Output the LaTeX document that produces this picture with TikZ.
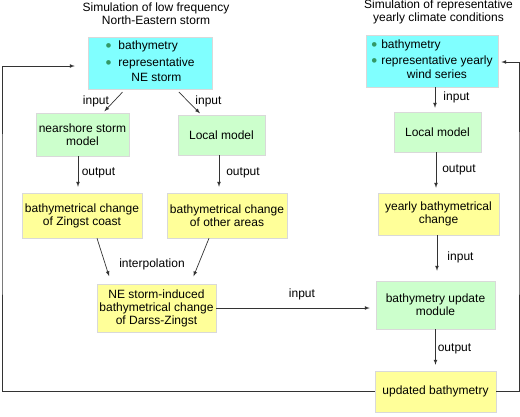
\documentclass[tikz,border=0pt]{standalone}
\usepackage{fontspec}
\setmainfont{Liberation Sans}
\usetikzlibrary{calc,arrows}
\definecolor{boxcyan}{HTML}{80FFFF}
\definecolor{boxgreen}{HTML}{CCFFCC}
\definecolor{boxyellow}{HTML}{FFFF99}
\definecolor{dotgreen}{HTML}{339966}
\newcommand{\greenbullet}{\textcolor{dotgreen}{\smash{\raisebox{-2pt}{\fontsize{17}{13}\selectfont\textbullet}}}}
\begin{document}
\begin{tikzpicture}[x=1pt,y=-1pt,
font=\fontsize{12}{13}\selectfont,
box/.style={draw=black!15, line width=0.5pt, inner sep=0pt, align=center},
cyanbox/.style={box, fill=boxcyan},
greenbox/.style={box, fill=boxgreen},
yellowbox/.style={box, fill=boxyellow},
link/.style={draw=black!80, line width=0.7pt, -latex},
lbl/.style={inner sep=0pt}]
\useasboundingbox (0,0) rectangle (520,416);
\node[align=center, inner sep=0pt] (titleA) at (156,13.5) {Simulation of low frequency\\North-Eastern storm};
\node[align=center, inner sep=0pt] (titleB) at (438.5,12) {Simulation of representative\\yearly climate conditions};
\node[cyanbox, minimum width=124pt, minimum height=52pt] (stormin) at (150,63)
  {\begin{tabular}{@{}l@{\hspace{7pt}}l@{}}\greenbullet & bathymetry\\[4pt]
   \greenbullet & representative\\[1.5pt] & \multicolumn{1}{@{}c@{}}{NE storm}\end{tabular}};
\node[cyanbox, minimum width=132pt, minimum height=52pt] (yearin) at (432,61)
  {\begin{tabular}{@{}l@{\hspace{4pt}}l@{}}\greenbullet & bathymetry\\[3pt]
   \greenbullet & representative yearly\\[1.5pt] & \multicolumn{1}{@{}c@{}}{wind series}\end{tabular}};
\node[greenbox, minimum width=93pt, minimum height=43pt] (nearshore) at (82.5,134.5) {nearshore storm\\model};
\node[greenbox, minimum width=87pt, minimum height=40pt] (localA) at (221.5,135) {Local model};
\node[greenbox, minimum width=87pt, minimum height=40pt] (localB) at (437.5,132) {Local model};
\node[yellowbox, minimum width=120pt, minimum height=45pt] (zingst) at (82,215.5) {bathymetrical change\\of Zingst coast};
\node[yellowbox, minimum width=120pt, minimum height=45pt] (other) at (227,215.5) {bathymetrical change\\of other areas};
\node[yellowbox, minimum width=121pt, minimum height=42pt] (yearly) at (438.5,214) {yearly bathymetrical\\change};
\node[yellowbox, minimum width=119pt, minimum height=48pt] (darss) at (156.5,308) {NE storm-induced\\bathymetrical change\\of Darss-Zingst};
\node[greenbox, minimum width=119pt, minimum height=48pt] (update) at (435.5,305) {bathymetry update\\module};
\node[yellowbox, minimum width=121pt, minimum height=41pt] (updated) at (435.5,391.5) {updated bathymetry};
\coordinate (loopL) at (2,200);
\coordinate (loopR) at (519,200);
\foreach \x/\y/\t [count=\i] in {96/101/input, 208.5/101/input, 98.5/173/output, 243/173/output,
    152/264/interpolation, 302/294/input, 456.5/97/input, 459/170/output, 460.5/257/input, 454.5/349/output}
  \node[lbl] (lab\i) at (\x,\y) {\t};
\draw[link, shorten <=4pt, shorten >=2pt] (stormin) -- (nearshore);
\draw[link, shorten <=4pt, shorten >=2pt] (stormin) -- (localA);
\draw[link, shorten >=6pt] ([xshift=-4.5pt]nearshore.south) -- ([xshift=-4.5pt]nearshore.south |- zingst.north);
\draw[link, shorten >=6pt] ([xshift=-2.5pt]localA.south) -- ([xshift=-2.5pt]localA.south |- other.north);
\draw[link, shorten >=8pt] ([xshift=15pt]zingst.south) -- ([xshift=-45pt]darss.north);
\draw[link, shorten >=8pt] ([xshift=-18pt]other.south) -- ([xshift=34pt]darss.north);
\draw[link, shorten >=6pt] (darss.east) -- (darss.east -| update.west);
\draw[link, shorten >=4pt] ([xshift=3pt]yearin.south) -- ([xshift=3pt]yearin.south |- localB.north);
\draw[link, shorten >=5pt] ([xshift=-1.5pt]localB.south) -- ([xshift=-1.5pt]localB.south |- yearly.north);
\draw[link, shorten >=10pt] ([xshift=-1.5pt]yearly.south) -- ([xshift=-1.5pt]yearly.south |- update.north);
\draw[link, shorten >=6pt] (update.south) -- (update.south |- updated.north);
\draw[link, shorten >=13pt] (updated.west) -| (loopL) |- ($(stormin.west)+(0,3)$);
\draw[link, shorten >=3pt] (updated.east) -| (loopR) |- ($(yearin.east)+(0,1)$);
\end{tikzpicture}
\end{document}
